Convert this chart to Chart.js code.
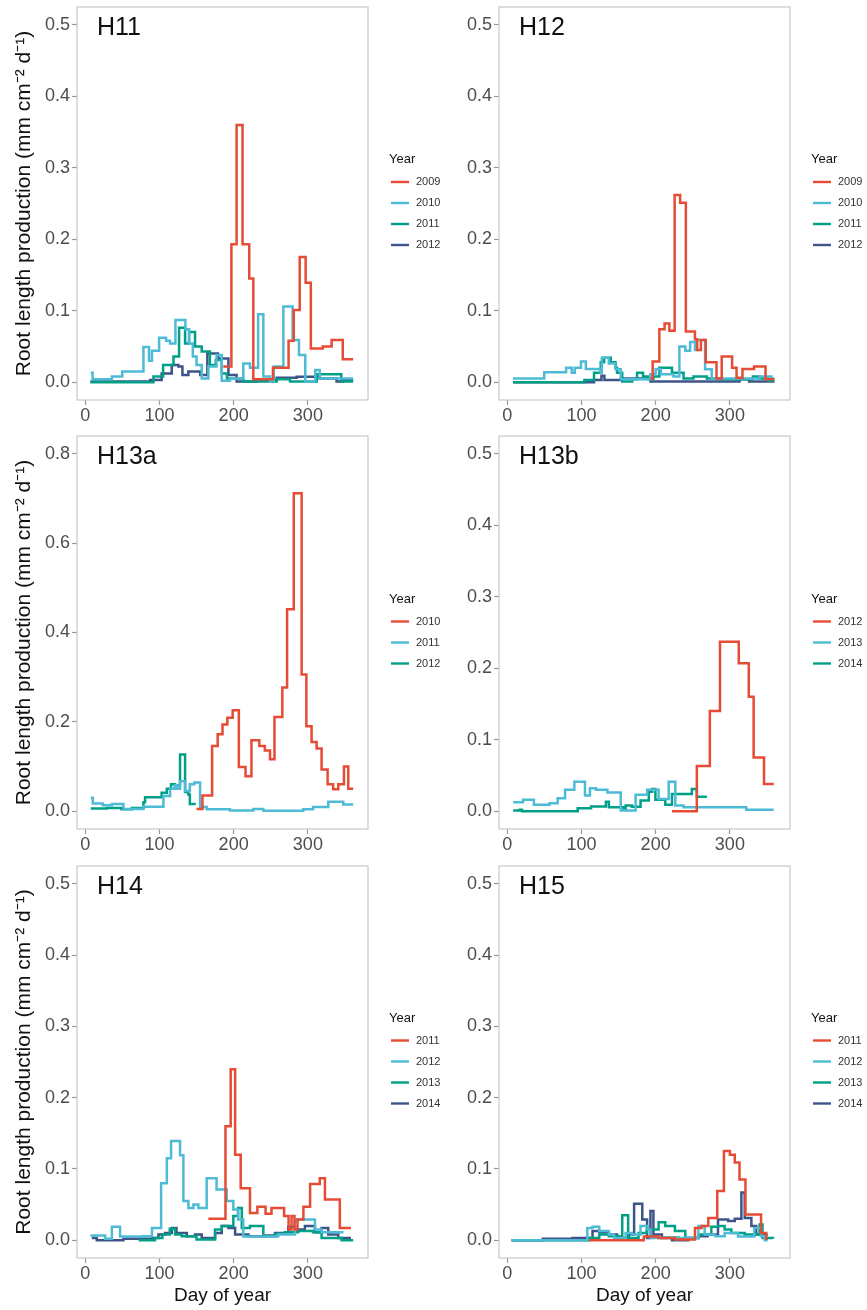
<!DOCTYPE html>
<html>
<head>
<meta charset="utf-8">
<script src="https://cdn.jsdelivr.net/npm/chart.js@4.4.1/dist/chart.umd.min.js"></script>
<style>
  body { margin: 0; background: #fff; }
  #wrap { position: relative; width: 867px; height: 1310px; }
  canvas { position: absolute; }
</style>
</head>
<body>
<div id="wrap">
  <canvas id="h11" width="440" height="430" style="left:0;top:0"></canvas>
  <canvas id="h12" width="427" height="430" style="left:440px;top:0"></canvas>
  <canvas id="h13a" width="440" height="430" style="left:0;top:430px"></canvas>
  <canvas id="h13b" width="427" height="430" style="left:440px;top:430px"></canvas>
  <canvas id="h14" width="440" height="450" style="left:0;top:860px"></canvas>
  <canvas id="h15" width="427" height="450" style="left:440px;top:860px"></canvas>
</div>
<script>
// tick labels
const xTicks = [0, 100, 200, 300];
const yTicksSmall = [0, 0.1, 0.2, 0.3, 0.4, 0.5];
const yTicksBig = [0, 0.2, 0.4, 0.6, 0.8];

const lineColors = ['#E64B35', '#4DBBD5', '#00A087', '#3C5488'];

// each series: [day of year, root length production] (step starts at that day)
// H11
const h11Years = ['2009', '2010', '2011', '2012'];
const h11_2009 = [[186,0.022],[197,0.193],[204,0.36],[212,0.193],[221,0.145],[226.5,0.004],[253,0.02],[274,0.058],[281,0.101],[289,0.175],[297,0.139],[304,0.047],[320,0.05],[332,0.059],[347,0.032],[361,0.032]];
const h11_2010 = [[7.6,0.013],[10,0.004],[36,0.008],[50,0.015],[78.5,0.049],[86,0.03],[90,0.044],[99.6,0.062],[109,0.058],[114.4,0.054],[121.6,0.087],[135,0.074],[140,0.054],[145,0.036],[150,0.024],[157,0.005],[166,0.022],[177,0.038],[184,0.002],[195,0.005],[213,0.026],[222,0.02],[233,0.095],[240,0.008],[249,0.001],[254,0.022],[267,0.106],[279.5,0.059],[288,0.038],[296.5,0.001],[310,0.017],[316,0.005],[361,0.005]];
const h11_2011 = [[7,0],[92,0.008],[105,0.024],[119,0.036],[126.5,0.076],[134.6,0.054],[140,0.07],[148,0.05],[157,0.043],[168,0.024],[176,0.031],[184,0.012],[191,0.005],[213,0.001],[258,0.004],[276,0.001],[312,0.011],[345,0.001],[361,0.001]];
const h11_2012 = [[7,0.001],[87.5,0.003],[103,0.012],[116.6,0.024],[125.6,0.022],[131,0.01],[139,0.015],[155,0.01],[164.6,0.04],[179,0.033],[193,0.01],[204,0.001],[231,0.003],[258,0.006],[285,0.0075],[316,0.005],[338.6,0.001],[347.7,0.003],[361,0.003]];

// H12
const h12Years = ['2009', '2010', '2011', '2012'];
const h12_2009 = [[193,0.005],[196,0.029],[205,0.074],[212,0.082],[218.5,0.072],[225.6,0.262],[233,0.251],[240.7,0.071],[253,0.06],[256,0.045],[261,0.059],[267.5,0.028],[282,0.005],[289,0.036],[303,0.02],[309,0.006],[317,0.0185],[332.6,0.022],[348,0.004],[360,0.004]];
const h12_2010 = [[8,0.005],[50,0.014],[79.4,0.02],[87,0.013],[91,0.02],[99.4,0.029],[106,0.0185],[120,0.0185],[126,0.013],[127.5,0.034],[137,0.026],[146,0.018],[153,0.004],[193,0.011],[200,0.018],[207,0.011],[224,0.008],[232,0.05],[240,0.044],[246.5,0.056],[253,0.045],[255,0.059],[266.6,0.018],[275.5,0.005],[340,0.008],[356,0.005],[360,0.005]];
const h12_2011 = [[8,0],[104,0.003],[117,0.013],[126,0.028],[130.6,0.034],[139.5,0.028],[146,0.02],[148,0.013],[155,0.001],[168.5,0.004],[175,0.013],[183,0.008],[190,0.004],[197,0.008],[205,0.02],[222,0.013],[237.6,0.005],[251,0.008],[269,0.005],[287,0.004],[331,0.008],[340,0.005],[352,0.002],[360,0.002]];
const h12_2012 = [[8,0],[117,0.003],[127,0.009],[131,0.003],[153,0.005],[193,0.001],[313,0.004],[326,0.001],[360,0.001]];

// H13a
const h13aYears = ['2010', '2011', '2012'];
const h13a_2010 = [[150,0.005],[158,0.035],[171,0.146],[178.5,0.172],[185,0.194],[191.5,0.209],[198.7,0.226],[207,0.099],[216,0.078],[224,0.159],[234.6,0.146],[242,0.136],[249,0.116],[255,0.211],[265.6,0.277],[272,0.452],[281,0.712],[291.6,0.306],[298,0.19],[305,0.155],[311.8,0.14],[318.5,0.093],[326.6,0.06],[334,0.049],[341,0.06],[348.6,0.1],[354.4,0.05],[361,0.05]];
const h13a_2011 = [[7.6,0.03],[10.3,0.017],[23.8,0.013],[36,0.016],[51.6,0.005],[78.5,0.01],[105.4,0.034],[114.4,0.05],[121,0.058],[124,0.05],[127.8,0.067],[134.6,0.045],[141,0.06],[147,0.064],[154.8,0.009],[163.7,0.004],[195,0.0015],[226.5,0.005],[240,0.001],[293.8,0.004],[307,0.009],[327.5,0.021],[347.7,0.015],[361,0.015]];
const h13a_2012 = [[7.6,0.006],[29,0.007],[49,0.004],[62.8,0.007],[78.5,0.02],[80.7,0.031],[103,0.041],[110,0.05],[115.7,0.06],[121,0.058],[127.8,0.127],[131,0.127],[134.6,0.043],[139,0.037],[141,0.016],[149,0.016]];

// H13b
const h13bYears = ['2012', '2013', '2014'];
const h13b_2012 = [[222,0],[255.5,0.063],[273,0.14],[286.7,0.237],[312,0.207],[325.5,0.16],[332,0.075],[346,0.038],[359,0.038]];
const h13b_2013 = [[8,0.0125],[21.4,0.016],[36,0.009],[57,0.011],[68,0.018],[78,0.03],[90.5,0.041],[104.8,0.022],[111.5,0.032],[119.5,0.03],[135,0.026],[153,0.001],[173,0.023],[188.6,0.03],[204,0.017],[217.6,0.041],[226.5,0.008],[237.6,0.0056],[311,0.0056],[322,0.002],[359,0.002]];
const h13b_2014 = [[8,0.001],[17,0.002],[20,0],[95,0.004],[113,0.0065],[133,0.013],[137,0.0056],[157,0.003],[159.6,0.008],[168,0.006],[179.7,0.015],[190.8,0.027],[195.3,0.031],[199.7,0.016],[213,0.009],[222,0.024],[248.8,0.031],[255.5,0.02],[269,0.02]];

// H14
const h14Years = ['2011', '2012', '2013', '2014'];
const h14_2011 = [[166,0.03],[189,0.16],[196,0.24],[202,0.12],[209.5,0.073],[222,0.038],[232,0.047],[243,0.037],[251,0.045],[268,0.034],[274,0.015],[278,0.034],[282,0.015],[286,0.029],[294,0.047],[303,0.079],[316,0.087],[323,0.057],[343,0.017],[358,0.017]];
const h14_2012 = [[7,0.0065],[27,0.002],[36,0.019],[47,0.005],[78.5,0.0056],[90,0.017],[102.3,0.08],[110,0.115],[115.7,0.139],[127.8,0.119],[132.3,0.055],[139,0.045],[145.8,0.05],[152.5,0.045],[163.7,0.087],[177,0.071],[190.7,0.055],[199.6,0.043],[206,0.029],[213,0.005],[240,0.005],[260,0.008],[282.6,0.029],[309.5,0.015],[318.5,0.011],[348,0.011]];
const h14_2013 = [[72,0],[94,0.003],[104,0.008],[114,0.016],[121,0.008],[130,0.0056],[150,0.001],[175,0.015],[184,0.02],[199.6,0.034],[206,0.045],[211,0.017],[222,0.02],[240,0.0056],[255.7,0.009],[269,0.011],[287,0.013],[307,0.011],[318.5,0.003],[345.4,0],[361,0]];
const h14_2014 = [[9,0.003],[15.7,0],[51.6,0.002],[90,0.003],[98.7,0.008],[107.7,0.01],[116.6,0.017],[123,0.01],[137,0.0056],[148,0.008],[157,0.003],[175,0.01],[184,0.02],[193,0.017],[202,0.008],[220,0.0056],[242,0.0065],[255.7,0.01],[273.6,0.019],[282.6,0.015],[296,0.02],[309.5,0.011],[318.5,0.017],[327.5,0.008],[341,0.003],[358,0.003]];

// H15
const h15Years = ['2011', '2012', '2013', '2014'];
const h15_2011 = [[110.5,0],[184,0.005],[204,0.003],[226,0.001],[253,0.017],[262,0.02],[271,0.031],[283,0.069],[292,0.125],[300,0.12],[306.6,0.109],[313,0.085],[321,0.036],[342,0.01],[349,0.002],[351,0.002]];
const h15_2012 = [[6,0],[108,0.017],[115,0.019],[124,0.013],[137,0.008],[144,0.003],[159.5,0.01],[168,0.008],[179.6,0.02],[189,0.015],[193,0.003],[213,0.004],[231,0.003],[257.6,0.02],[266,0.008],[280,0.0056],[293,0.01],[311,0.005],[333,0.017],[342,0.0056],[347,0],[351,0]];
const h15_2013 = [[6,0],[110.5,0.003],[124,0.008],[137,0.0056],[155,0.035],[163,0.003],[177,0.01],[188,0.015],[204,0.025],[213,0.02],[226,0.013],[240,0.003],[258,0.008],[275,0.019],[284,0.02],[293,0.015],[302,0.01],[320,0.008],[340,0.022],[344,0.003],[358,0.002]];
const h15_2014 = [[6,0],[48,0.002],[88,0.003],[115,0.013],[124,0.011],[137,0.008],[148,0.003],[164,0.008],[171,0.051],[182,0.029],[188.5,0.003],[193,0.041],[197,0.008],[208.5,0.003],[222,0],[244,0.003],[257.6,0.0056],[270,0.008],[284,0.029],[297.7,0.027],[306.6,0.03],[315.5,0.067],[320,0.031],[329,0.02],[335.5,0.008],[351,0.008]];

Chart.defaults.font.family = "'Liberation Sans', Arial, sans-serif";

// frame, panel name and the legend (ggplot style)
const panelDecor = {
  id: 'panelDecor',
  afterDraw(chart, args, opts) {
    const ctx = chart.ctx;
    const a = chart.chartArea;
    ctx.save();
    ctx.strokeStyle = '#c8c8c8';
    ctx.lineWidth = 1.2;
    ctx.strokeRect(a.left, a.top, a.right - a.left, a.bottom - a.top);

    ctx.fillStyle = '#111';
    ctx.font = "25px 'Liberation Sans', Arial, sans-serif";
    ctx.textBaseline = 'alphabetic';
    ctx.textAlign = 'left';
    ctx.fillText(opts.name, a.left + 20, a.top + 28);

    const sets = chart.data.datasets;
    const lx = a.right + 21;
    const top = (a.top + a.bottom) / 2 - (20 + sets.length * 21) / 2;
    ctx.textBaseline = 'middle';
    ctx.font = "13px 'Liberation Sans', Arial, sans-serif";
    ctx.fillText('Year', lx, top + 8);
    ctx.font = "11px 'Liberation Sans', Arial, sans-serif";
    sets.forEach((ds, i) => {
      const y = top + 30.5 + 21 * i;
      ctx.strokeStyle = ds.borderColor;
      ctx.lineWidth = 2.4;
      ctx.beginPath();
      ctx.moveTo(lx + 2, y);
      ctx.lineTo(lx + 20, y);
      ctx.stroke();
      ctx.fillStyle = '#333';
      ctx.fillText(ds.label, lx + 27, y);
    });
    ctx.restore();
  }
};

function makePanel(id, name, years, series, yMax, yTicks, leftCol, bottomRow, topPad) {
  const datasets = series.map((s, i) => ({
    label: years[i],
    data: s,
    borderColor: lineColors[i],
    backgroundColor: lineColors[i],
    borderWidth: 2.5,
    pointRadius: 0,
    stepped: 'before',
    fill: false
  }));
  const yPad = yMax * 0.05;
  return new Chart(document.getElementById(id), {
    type: 'line',
    data: { datasets },
    options: {
      responsive: false,
      animation: false,
      events: [],
      layout: { padding: { left: 0, right: leftCol ? 72 : 77, top: topPad, bottom: 0 } },
      plugins: {
        legend: { display: false },
        tooltip: { enabled: false },
        panelDecor: { name }
      },
      scales: {
        x: {
          type: 'linear',
          min: -11,
          max: 381,
          afterBuildTicks: (s) => { s.ticks = xTicks.map(v => ({ value: v })); },
          afterFit: (s) => {
            s.height = bottomRow ? 52 : 430 - topPad - 393;
            s.paddingLeft = 0;
            s.paddingRight = 0;
          },
          grid: { drawOnChartArea: false, drawTicks: true, tickLength: 5, tickColor: '#999', tickWidth: 1.2 },
          border: { display: false },
          ticks: { color: '#4d4d4d', font: { size: 18, lineHeight: 1.0 }, padding: 2, maxRotation: 0 },
          title: {
            display: bottomRow,
            text: 'Day of year',
            color: '#111',
            font: { size: 19 },
            padding: { top: 0, bottom: 3 }
          }
        },
        y: {
          min: -yPad,
          max: yMax + yPad,
          afterBuildTicks: (s) => { s.ticks = yTicks.map(v => ({ value: v })); },
          afterFit: (s) => {
            s.width = leftCol ? 77 : 59;
            s.paddingTop = 0;
            s.paddingBottom = 0;
          },
          grid: { drawOnChartArea: false, drawTicks: true, tickLength: 5, tickColor: '#999', tickWidth: 1.2 },
          border: { display: false },
          ticks: { color: '#4d4d4d', font: { size: 18 }, padding: 2, callback: (v) => v.toFixed(1) },
          title: {
            display: leftCol,
            text: 'Root length production (mm cm\u207B\u00B2 d\u207B\u00B9)',
            color: '#111',
            font: { size: 21 },
            padding: { top: 11.5, bottom: 0 }
          }
        }
      }
    },
    plugins: [panelDecor]
  });
}

makePanel('h11', 'H11', h11Years, [h11_2009, h11_2010, h11_2011, h11_2012], 0.5, yTicksSmall, true, false, 7);
makePanel('h12', 'H12', h12Years, [h12_2009, h12_2010, h12_2011, h12_2012], 0.5, yTicksSmall, false, false, 7);
makePanel('h13a', 'H13a', h13aYears, [h13a_2010, h13a_2011, h13a_2012], 0.8, yTicksBig, true, false, 6);
makePanel('h13b', 'H13b', h13bYears, [h13b_2012, h13b_2013, h13b_2014], 0.5, yTicksSmall, false, false, 6);
makePanel('h14', 'H14', h14Years, [h14_2011, h14_2012, h14_2013, h14_2014], 0.5, yTicksSmall, true, true, 6);
makePanel('h15', 'H15', h15Years, [h15_2011, h15_2012, h15_2013, h15_2014], 0.5, yTicksSmall, false, true, 6);
</script>
</body>
</html>
